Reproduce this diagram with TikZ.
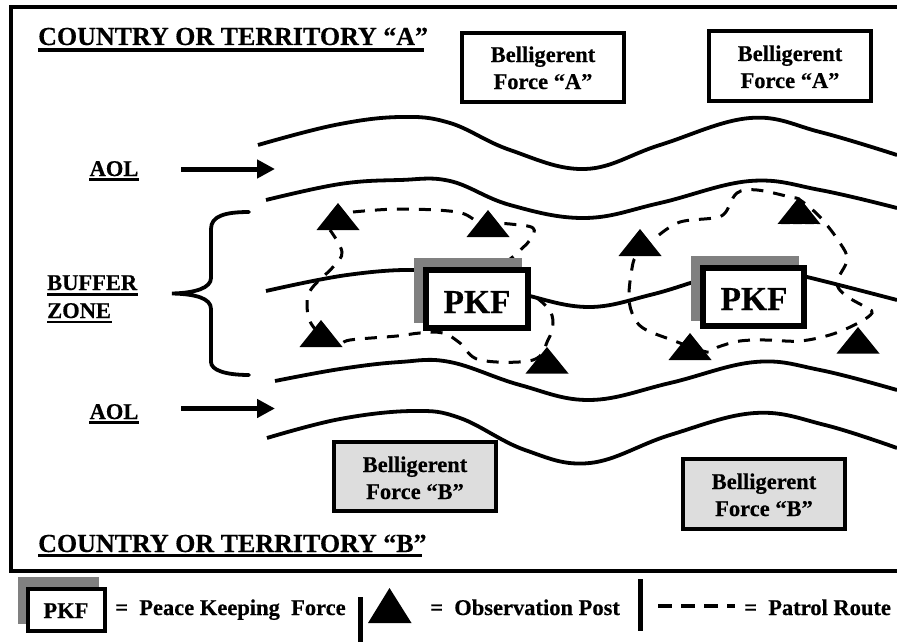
\documentclass[tikz,border=0pt]{standalone}
\usepackage{fontspec}
\setmainfont{Liberation Serif}[BoldFeatures={FakeBold=0.4}]
\usetikzlibrary{arrows.meta}
\definecolor{shadowgray}{HTML}{808080}
\definecolor{forcegray}{HTML}{DDDDDD}
\newcommand{\optri}[3]{\fill[black] (#1,#2) -- ++(-21.5,#3) -- ++(43,0) -- cycle;}
\tikzset{
  lbl/.style={font=\bfseries\fontsize{22.5}{27}\selectfont,inner sep=0pt,anchor=base},
  lblw/.style={lbl,anchor=base west},
  ttl/.style={font=\bfseries\fontsize{26}{30}\selectfont,inner sep=0pt,anchor=base west},
  river/.style={line width=3.8pt,smooth,tension=0.65},
  patrol/.style={line width=3pt,dash pattern=on 12pt off 10pt},
  force/.style={draw=black,line width=3.8pt},
  pkfbox/.style={draw=black,line width=5.5pt,fill=white},
  aol/.style={line width=5pt,-{Triangle[length=18pt,width=18pt]}}
}
\begin{document}
\begin{tikzpicture}[x=1pt,y=-1pt]
\useasboundingbox (0,0) rectangle (897,642);
\fill[white] (0,0) rectangle (897,642);
% frame
\draw[line width=4pt] (897,7) -- (11,7) -- (11,571) -- (897,571);
% titles
\node[ttl] (ta) at (38,45) {COUNTRY OR TERRITORY “A”};
\draw[line width=3.6pt] (38,50) -- (424,50);
\node[ttl] (tb) at (38,552) {COUNTRY OR TERRITORY “B”};
\draw[line width=2.8pt] (38,555.5) -- (422,555.5);
% force boxes
\draw[force] (462,33) rectangle (624,102);
\node[lbl,align=center] (fa1) at (543,89) {Belligerent\\Force “A”};
\draw[force] (709,31) rectangle (871,101);
\node[lbl,align=center] (fa2) at (790,88) {Belligerent\\Force “A”};
\draw[force,fill=forcegray] (334,442) rectangle (496,511);
\node[lbl,align=center] (fb1) at (415,499) {Belligerent\\Force “B”};
\draw[force,fill=forcegray] (683,459) rectangle (845,529);
\node[lbl,align=center] (fb2) at (764,516) {Belligerent\\Force “B”};
% rivers
\draw[river] plot coordinates {(258,145) (335,125) (400,117) (450,123) (510,150) (585,169) (660,145) (750,118) (820,132) (897,155)};
\draw[river] plot coordinates {(266,200) (340,184) (400,180) (450,181) (510,205) (585,218) (660,203) (750,181) (820,190) (897,208)};
\draw[river] plot coordinates {(266,291) (347,275) (420,270) (480,278) (530,296) (590,307) (650,295) (700,280) (750,265) (807,277) (897,300)};
\draw[river] plot coordinates {(275,381) (340,369) (400,362) (450,362) (520,385) (590,400) (670,383) (755,362) (820,370) (897,390)};
\draw[river] plot coordinates {(267,438) (340,419) (413,411) (460,418) (525,450) (590,463) (670,435) (755,413) (825,425) (897,448)};
% AOL
\node[lbl] (aol1) at (114,176) {AOL};
\draw[line width=2.6pt] (89,179.5) -- (139,179.5);
\draw[aol] (181,169) -- (275,169);
\node[lbl] (aol2) at (114,419) {AOL};
\draw[line width=2.6pt] (89,422.5) -- (139,422.5);
\draw[aol] (181,408.5) -- (275,408.5);
% buffer
\node[lblw] (bz1) at (47,290) {BUFFER};
\draw[line width=2.6pt] (47,294.5) -- (138,294.5);
\node[lblw] (bz2) at (47,318) {ZONE};
\draw[line width=2.6pt] (47,322) -- (112,322);
\draw[line width=3.8pt,line cap=round] (249,212) .. controls (225,212) and (211,216) .. (211,229) -- (211,278) .. controls (211,288) and (195,293) .. (172,293.5) .. controls (195,294) and (211,298) .. (211,309) -- (211,362) .. controls (211,370) and (225,375) .. (249,375);
% patrols
\draw[patrol,smooth,tension=0.6] plot coordinates {(353,212) (400,209) (457,212) (480,222) (510,224) (533,228) (530,240) (515,255) (500,270) (520,285) (547,307) (553,323) (548,340) (533,360) (480,360) (460,343) (443,333) (420,333) (397,336) (350,340) (335,345) (312,325) (307,303) (312,288) (333,267) (342,252) (330,230)};
\draw[patrol,smooth,tension=0.6] plot coordinates {(659,235) (680,222) (713,218) (725,213) (737,193) (757,190) (790,197) (800,200) (820,217) (840,243) (847,260) (837,282) (845,295) (867,308) (872,313) (860,322) (833,334) (800,341) (767,340) (740,341) (718,347) (707,352) (672,340) (643,328) (632,313) (629,293) (633,263) (637,256)};
% PKF
\fill[shadowgray] (414,258) rectangle (522,323);
\draw[pkfbox] (426,270) rectangle (528,328);
\node[font=\bfseries\fontsize{33.5}{36}\selectfont,inner sep=0pt,anchor=base] (p1) at (477,313) {PKF};
\fill[shadowgray] (691,256) rectangle (799,321);
\draw[pkfbox] (703,268) rectangle (804,326);
\node[font=\bfseries\fontsize{33.5}{36}\selectfont,inner sep=0pt,anchor=base] (p2) at (754,310) {PKF};
% triangles
\optri{338}{203}{27}
\optri{488}{210}{27}
\optri{321}{320}{27}
\optri{547}{347}{26.5}
\optri{640}{229}{27}
\optri{799}{197}{27}
\optri{690}{333}{27}
\optri{858}{327}{26.5}
\draw[white,line width=0.8pt,dash pattern=on 3pt off 9pt] (777.5,224) -- (820.5,224);
% legend
\fill[shadowgray] (18,577) rectangle (99,624);
\draw[line width=4pt,fill=white] (28,589) rectangle (105,631);
\node[lbl] (lp) at (66,618) {PKF};
\node[lblw] (l1) at (115,615) {=\ \ Peace Keeping\ \ Force};
\draw[line width=5pt] (360.5,597) -- (360.5,642);
\fill[black] (389.5,588) -- (368,623) -- (411.5,623) -- cycle;
\node[lblw] (l2) at (430,615) {=\ \ Observation Post};
\draw[line width=5pt] (640.5,579) -- (640.5,631);
\draw[line width=4pt,dash pattern=on 14pt off 9pt] (658,606) -- (735,606);
\node[lblw] (l3) at (744,615) {=\ \ Patrol Route};
\end{tikzpicture}
\end{document}
